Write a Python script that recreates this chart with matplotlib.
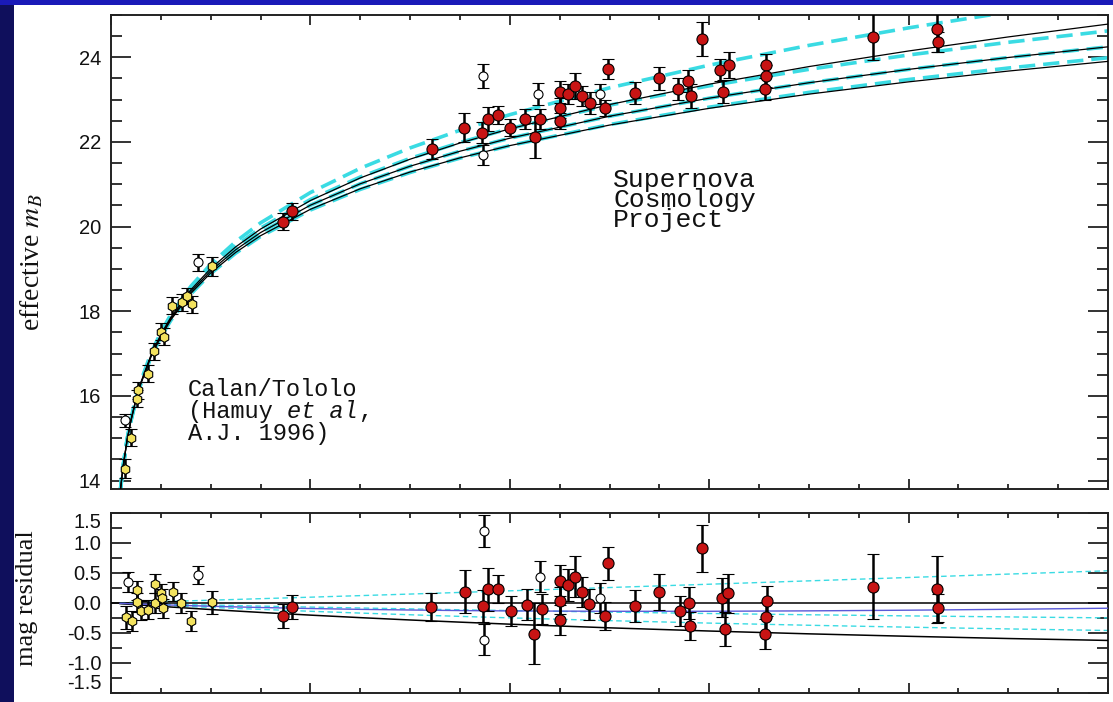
"""
Supernova Cosmology Project Hubble diagram (effective m_B vs z) with
magnitude residual panel, on the blue slide background.

Output: out.png
"""

import matplotlib
matplotlib.use("Agg")
import matplotlib.pyplot as plt
from matplotlib.patches import Rectangle
from matplotlib.ticker import MultipleLocator, FormatStrFormatter

plt.rcParams.update({
    "font.family": ["Liberation Sans", "DejaVu Sans"],
    "mathtext.fontset": "stix",
    "axes.unicode_minus": False,
})

W, H = 1113, 702
NAVY = "#0f0f5c"
BAND = "#1a1ab8"
CYAN = "#3adbe3"
RED = "#c81414"
YELLOW = "#f3e25e"

# ── model curves ──
curve_z = [0.009, 0.012, 0.016, 0.02, 0.025, 0.03, 0.04, 0.05, 0.06, 0.08, 0.1, 0.125,
           0.15, 0.2, 0.25, 0.3, 0.35, 0.4, 0.5, 0.6, 0.7, 0.8, 0.9, 1.0]
# solid curves, Omega_Lambda = 0
m_00 = [13.685, 14.313, 14.942, 15.431, 15.921, 16.322, 16.957, 17.453, 17.859, 18.505,
        19.010, 19.520, 19.942, 20.616, 21.150, 21.593, 21.975, 22.310, 22.884, 23.365,
        23.781, 24.150, 24.482, 24.785]
m_10 = [13.680, 14.306, 14.933, 15.420, 15.907, 16.306, 16.936, 17.425, 17.826, 18.461,
        18.955, 19.452, 19.859, 20.506, 21.012, 21.427, 21.781, 22.089, 22.608, 23.035,
        23.399, 23.715, 23.996, 24.248]
m_20 = [13.675, 14.300, 14.925, 15.409, 15.894, 16.290, 16.914, 17.399, 17.795, 18.420,
        18.904, 19.389, 19.785, 20.409, 20.894, 21.290, 21.624, 21.914, 22.399, 22.795,
        23.130, 23.420, 23.675, 23.904]
# dashed curves, flat models
m_01 = [13.695, 14.326, 14.959, 15.452, 15.947, 16.354, 17.000, 17.505, 17.921, 18.587,
        19.111, 19.644, 20.088, 20.805, 21.378, 21.859, 22.276, 22.645, 23.279, 23.815,
        24.282, 24.696, 25.069, 25.409]
m_55 = [13.687, 14.316, 14.946, 15.436, 15.927, 16.329, 16.967, 17.464, 17.872, 18.521,
        19.029, 19.542, 19.965, 20.640, 21.172, 21.612, 21.988, 22.316, 22.870, 23.327,
        23.716, 24.055, 24.355, 24.624]
m_15 = [13.673, 14.297, 14.921, 15.404, 15.888, 16.283, 16.906, 17.389, 17.783, 18.405,
        18.888, 19.371, 19.767, 20.392, 20.879, 21.279, 21.618, 21.914, 22.411, 22.822,
        23.171, 23.476, 23.747, 23.990]

# residual curves relative to (0.28, 0.72)
r_01 = [0.004, 0.005, 0.007, 0.009, 0.011, 0.014, 0.018, 0.023, 0.028, 0.037, 0.047, 0.059,
        0.072, 0.097, 0.123, 0.149, 0.176, 0.203, 0.258, 0.313, 0.369, 0.425, 0.482, 0.537]
r_55 = [-0.003, -0.004, -0.006, -0.007, -0.009, -0.011, -0.014, -0.018, -0.021, -0.028,
        -0.035, -0.043, -0.052, -0.068, -0.083, -0.098, -0.113, -0.126, -0.152, -0.175,
        -0.196, -0.215, -0.232, -0.248]
r_7525 = [-0.007, -0.009, -0.012, -0.015, -0.019, -0.023, -0.030, -0.037, -0.045, -0.059,
          -0.073, -0.090, -0.106, -0.138, -0.168, -0.196, -0.223, -0.248, -0.294, -0.335,
          -0.371, -0.403, -0.432, -0.458]
r_10 = [-0.010, -0.014, -0.019, -0.023, -0.029, -0.034, -0.045, -0.056, -0.067, -0.088,
        -0.109, -0.133, -0.157, -0.202, -0.244, -0.283, -0.319, -0.353, -0.414, -0.467,
        -0.514, -0.555, -0.592, -0.624]
r_00 = [-0.006, -0.007, -0.010, -0.012, -0.015, -0.018, -0.024, -0.029, -0.034, -0.044,
        -0.054, -0.065, -0.075, -0.092, -0.106, -0.117, -0.126, -0.132, -0.138, -0.138,
        -0.131, -0.120, -0.105, -0.087]

# ── Calan/Tololo (yellow) ──
ct_z = [0.0140, 0.0201, 0.0258, 0.0274, 0.0374, 0.0431, 0.0498, 0.0535, 0.0609, 0.0709,
        0.0759, 0.0809, 0.1010]
ct_m = [14.28, 15.01, 15.93, 16.13, 16.52, 17.05, 17.52, 17.40, 18.13, 18.21, 18.36, 18.16,
        19.06]
ct_err = [0.22, 0.2, 0.2, 0.2, 0.2, 0.2, 0.2, 0.2, 0.2, 0.2, 0.2, 0.2, 0.22]

ct_res_z = [0.0147, 0.0208, 0.0258, 0.0264, 0.0301, 0.0368, 0.0441, 0.0441, 0.0502, 0.0515,
            0.0525, 0.0625, 0.0702, 0.0802, 0.1010]
ct_res = [-0.24, -0.30, 0.21, 0.01, -0.13, -0.11, 0.32, 0.00, 0.16, 0.08, -0.09, 0.19, 0.00,
          -0.30, 0.01]
ct_res_err = [0.19, 0.16, 0.16, 0.16, 0.16, 0.16, 0.16, 0.16, 0.16, 0.16, 0.16, 0.16, 0.16,
              0.16, 0.19]

# ── SCP (red) ──
scp_z = [0.1722, 0.1812, 0.3217, 0.3544, 0.3718, 0.3784, 0.3885, 0.4002, 0.4152, 0.4253,
         0.4303, 0.4503, 0.4503, 0.4503, 0.4587, 0.4654, 0.4721, 0.4804, 0.4955, 0.4988,
         0.5256, 0.5499, 0.5690, 0.5790, 0.5815, 0.5925, 0.6108, 0.6202, 0.6141, 0.6570,
         0.6570, 0.6560, 0.7640, 0.8282, 0.8298]
scp_m = [20.12, 20.36, 21.83, 22.34, 22.22, 22.55, 22.63, 22.34, 22.55, 22.11,
         22.55, 23.17, 22.81, 22.50, 23.13, 23.32, 23.09, 22.93, 22.81, 23.72,
         23.15, 23.50, 23.26, 23.44, 23.09, 24.44, 23.70, 23.81, 23.19, 23.83,
         23.56, 23.25, 24.49, 24.68, 24.36]
scp_err = [0.2, 0.2, 0.24, 0.35, 0.24, 0.28, 0.21, 0.21, 0.24, 0.50,
           0.24, 0.26, 0.24, 0.19, 0.24, 0.31, 0.24, 0.26, 0.19, 0.24,
           0.26, 0.28, 0.26, 0.26, 0.28, 0.40, 0.26, 0.31, 0.28, 0.26,
           0.26, 0.26, 0.55, 0.55, 0.24]

scp_res_z = [0.1722, 0.1812, 0.3207, 0.3551, 0.3728, 0.3784, 0.3885, 0.4009, 0.4170, 0.4243,
             0.4320, 0.4503, 0.4503, 0.4503, 0.4587, 0.4654, 0.4721, 0.4797, 0.4955, 0.4988,
             0.5256, 0.5499, 0.5707, 0.5800, 0.5807, 0.5925, 0.6125, 0.6192, 0.6158, 0.6577,
             0.6570, 0.6560, 0.7640, 0.8282, 0.8298]
scp_res = [-0.22, -0.07, -0.07, 0.19, -0.05, 0.23, 0.23, -0.13, -0.03, -0.51,
           -0.10, 0.37, 0.04, -0.29, 0.30, 0.44, 0.19, -0.02, -0.22, 0.66,
           -0.05, 0.19, -0.14, 0.00, -0.38, 0.91, 0.09, 0.16, -0.43, 0.03,
           -0.23, -0.51, 0.27, 0.23, -0.08]
scp_res_err = [0.20, 0.20, 0.23, 0.36, 0.26, 0.36, 0.23, 0.25, 0.26, 0.51,
               0.25, 0.26, 0.23, 0.25, 0.26, 0.34, 0.25, 0.26, 0.23, 0.28,
               0.26, 0.30, 0.25, 0.26, 0.23, 0.39, 0.33, 0.33, 0.28, 0.25,
               0.25, 0.25, 0.54, 0.56, 0.23]

# ── excluded points (open) ──
out_z = [0.0140, 0.0876, 0.3734, 0.3734, 0.4286, 0.4905]
out_m = [15.42, 19.16, 23.56, 21.69, 23.13, 23.13]
out_err = [0.16, 0.2, 0.28, 0.24, 0.26, 0.24]
out_res_z = [0.0174, 0.0876, 0.3744, 0.3744, 0.4303, 0.4905]
out_res = [0.35, 0.46, 1.20, -0.61, 0.44, 0.08]
out_res_err = [0.16, 0.15, 0.26, 0.26, 0.26, 0.25]


def style_axes(ax, ymaj, ymin):
    ax.set_xlim(0, 1.0)
    ax.xaxis.set_major_locator(MultipleLocator(0.2))
    ax.xaxis.set_minor_locator(MultipleLocator(0.05))
    ax.yaxis.set_major_locator(MultipleLocator(ymaj))
    ax.yaxis.set_minor_locator(MultipleLocator(ymin))
    ax.tick_params(which="both", direction="in", top=True, right=True,
                   labelbottom=False, width=1.2, colors="#111111")
    ax.tick_params(axis="y", which="major", length=14.5, pad=7, labelsize=14.5)
    ax.tick_params(axis="y", which="minor", length=8)
    ax.tick_params(axis="x", which="major", length=7)
    ax.tick_params(axis="x", which="minor", length=3.5)
    for s in ax.spines.values():
        s.set_linewidth(1.4)
        s.set_color("#222222")


def points(ax, z, y, e, face, marker, ms):
    ax.errorbar(z, y, yerr=e, fmt=marker, ms=ms, mfc=face, mec="black", mew=0.8,
                ecolor="black", elinewidth=1.8, capsize=4.5, capthick=1.8, zorder=5)


fig = plt.figure(figsize=(W / 100, H / 100), dpi=100, facecolor=NAVY)
fig.patches.append(Rectangle((0, 1 - 5 / H), 1, 5 / H, transform=fig.transFigure,
                             facecolor=BAND, edgecolor="none", zorder=-2))
fig.patches.append(Rectangle((14 / W, 0), 1, 1 - 5 / H, transform=fig.transFigure,
                             facecolor="white", edgecolor="none", zorder=-2))

# ── top panel ──
ax1 = fig.add_axes([111 / W, 1 - 489 / H, 997 / W, 474 / H])
ax1.set_facecolor("white")
for mv in (m_01, m_55, m_10, m_15):
    ax1.plot(curve_z, mv, color=CYAN, lw=2.6, dashes=(4.5, 2.2), zorder=2)
for mv in (m_00, m_10, m_20):
    ax1.plot(curve_z, mv, color="black", lw=0.9, zorder=3)
points(ax1, ct_z, ct_m, ct_err, YELLOW, "h", 7)
points(ax1, scp_z, scp_m, scp_err, RED, "o", 8)
points(ax1, out_z, out_m, out_err, "white", "o", 6.5)
ax1.set_ylim(13.8, 25.0)
style_axes(ax1, 2, 0.5)

fig.text(613 / W, 1 - 168 / H, "Supernova\nCosmology\nProject",
         family="Liberation Mono", fontsize=19, linespacing=0.8, va="top", ha="left",
         color="#111111")
CT_FS = 17
fig.text(188 / W, 1 - 378 / H, "Calan/Tololo", family="Liberation Mono", fontsize=CT_FS,
         va="top", ha="left", color="#111111")
for txt, off, sty in (("(Hamuy", 0, "normal"), ("et al", 7, "italic"), (",", 12, "normal")):
    ax1.annotate(txt, xy=(188, H - 400), xycoords="figure pixels",
                 xytext=(off * 0.6 * CT_FS, 0), textcoords="offset points",
                 family="Liberation Mono", fontsize=CT_FS, style=sty, va="top",
                 ha="left", color="#111111", annotation_clip=False)
fig.text(188 / W, 1 - 422 / H, "A.J. 1996)", family="Liberation Mono", fontsize=CT_FS,
         va="top", ha="left", color="#111111")

fig.text(32 / W, 1 - 262 / H, r"effective $m_B$", rotation=90, family="Liberation Serif",
         fontsize=20, va="center", ha="center", color="#111111")

# ── residual panel ──
ax2 = fig.add_axes([111 / W, 1 - 693 / H, 997 / W, 180 / H])
ax2.set_facecolor("white")
ax2.axhline(0, color="black", lw=1.1, zorder=3)
for rv in (r_01, r_55, r_7525):
    ax2.plot(curve_z, rv, color=CYAN, lw=1.0, dashes=(4, 2.5), zorder=2)
ax2.plot(curve_z, r_10, color="black", lw=1.1, zorder=3)
ax2.plot(curve_z, r_00, color="#5a5ad8", lw=1.0, zorder=3)
points(ax2, ct_res_z, ct_res, ct_res_err, YELLOW, "h", 7)
points(ax2, scp_res_z, scp_res, scp_res_err, RED, "o", 8)
points(ax2, out_res_z, out_res, out_res_err, "white", "o", 6.5)
ax2.set_ylim(-1.5, 1.5)
style_axes(ax2, 0.5, 0.25)
ax2.yaxis.set_major_formatter(FormatStrFormatter("%.1f"))

# end labels sit inside the panel, as in the original
for tick, loc in zip(ax2.yaxis.get_major_ticks(), ax2.yaxis.get_majorticklocs()):
    if loc > 1.4:
        tick.label1.set_va("top")
    elif loc < -1.4:
        tick.label1.set_va("bottom")

fig.text(27 / W, 1 - 598 / H, "mag residual", rotation=90, family="Liberation Serif",
         fontsize=19, va="center", ha="center", color="#111111")

fig.savefig("out.png", dpi=100, facecolor=NAVY)
